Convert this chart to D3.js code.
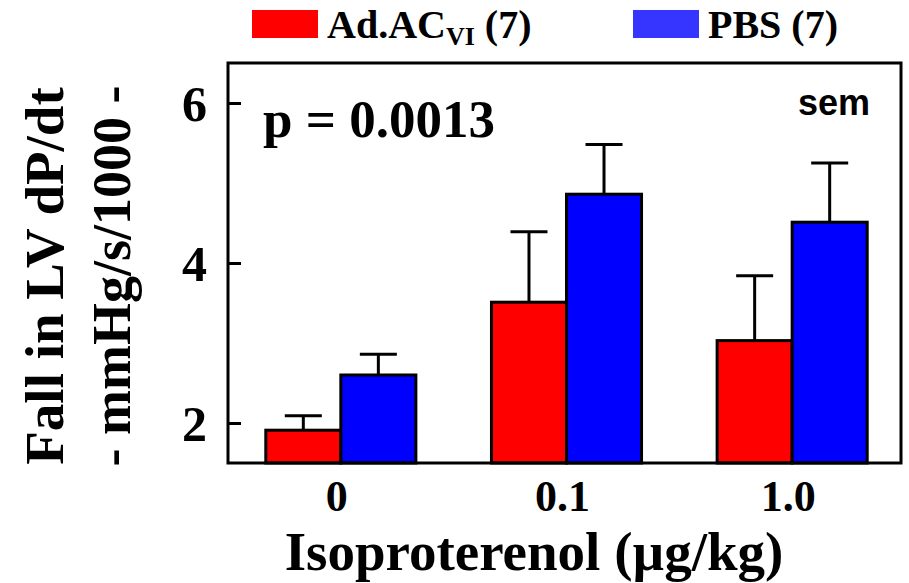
<!doctype html>
<html lang="en">
<head>
<meta charset="utf-8">
<title>Fall in LV dP/dt</title>
<script src="https://cdnjs.cloudflare.com/ajax/libs/d3/7.8.5/d3.min.js"></script>
<style>
  body { margin: 0; background: #fff; }
  svg { display: block; }
  .serif { font-family: "Liberation Serif", "Times New Roman", serif; font-weight: bold; fill: #000; }
  .sans { font-family: "Liberation Sans", Arial, sans-serif; font-weight: bold; fill: #000; }
</style>
</head>
<body>
<script>
// data
var doses = ["0", "0.1", "1.0"];
var groups = ["Ad.AC", "PBS"];
var adacMean = [1.91, 3.51, 3.03];
var adacSem = [0.18, 0.88, 0.81];
var pbsMean = [2.60, 4.86, 4.51];
var pbsSem = [0.26, 0.62, 0.74];
var yTicks = [2, 4, 6];

var width = 909, height = 583;
var plotLeft = 228, plotTop = 63, plotRight = 901, plotBottom = 463;

var svg = d3.select("body").append("svg")
    .attr("width", width)
    .attr("height", height);

var x0 = d3.scaleBand()
    .domain(doses)
    .range([plotLeft, 905])
    .paddingInner(0.335)
    .paddingOuter(0.1675);

var x1 = d3.scaleBand()
    .domain(groups)
    .range([0, x0.bandwidth()]);

var y = d3.scaleLinear()
    .domain([1.5, 6.5])
    .range([plotBottom, plotTop]);

var barColor = { "Ad.AC": "#ff0000", "PBS": "#0000ff" };
var keyColor = { "Ad.AC": "#ff0000", "PBS": "#3535ff" };

var rows = [];
doses.forEach(function (d, i) {
  rows.push({ dose: d, group: "Ad.AC", mean: adacMean[i], sem: adacSem[i] });
  rows.push({ dose: d, group: "PBS", mean: pbsMean[i], sem: pbsSem[i] });
});

// error bars (upper only), drawn before bars
var err = svg.append("g")
    .attr("stroke", "#000")
    .attr("stroke-width", 3);

rows.forEach(function (r) {
  var cx = x0(r.dose) + x1(r.group) + x1.bandwidth() / 2;
  err.append("line")
      .attr("x1", cx).attr("x2", cx)
      .attr("y1", y(r.mean)).attr("y2", y(r.mean + r.sem));
  err.append("line")
      .attr("x1", cx - 18.5).attr("x2", cx + 18.5)
      .attr("y1", y(r.mean + r.sem)).attr("y2", y(r.mean + r.sem));
});

// bars
svg.append("g").selectAll("rect")
    .data(rows)
    .join("rect")
    .attr("x", function (d) { return x0(d.dose) + x1(d.group); })
    .attr("y", function (d) { return y(d.mean); })
    .attr("width", x1.bandwidth())
    .attr("height", function (d) { return plotBottom - y(d.mean); })
    .attr("fill", function (d) { return barColor[d.group]; })
    .attr("stroke", "#000")
    .attr("stroke-width", 3);

// frame
svg.append("rect")
    .attr("x", plotLeft).attr("y", plotTop)
    .attr("width", plotRight - plotLeft).attr("height", plotBottom - plotTop)
    .attr("fill", "none")
    .attr("stroke", "#000")
    .attr("stroke-width", 3);

// y axis, ticks pointing inward
var yAxis = svg.append("g")
    .attr("transform", "translate(" + plotLeft + ",0)")
    .call(d3.axisLeft(y).tickValues(yTicks).tickFormat(d3.format("d"))
      .tickSize(-13).tickPadding(21));
yAxis.select(".domain").remove();
yAxis.selectAll(".tick line").attr("stroke", "#000").attr("stroke-width", 3);
yAxis.selectAll(".tick text")
    .attr("class", "serif")
    .attr("font-size", 50)
    .attr("dy", "0.34em");

// x axis labels
var xAxis = svg.append("g")
    .attr("transform", "translate(0," + plotBottom + ")")
    .call(d3.axisBottom(x0).tickSize(0));
xAxis.select(".domain").remove();
xAxis.selectAll(".tick text")
    .attr("class", "serif")
    .attr("font-size", 44)
    .attr("y", 48)
    .attr("dx", -4)
    .attr("dy", null);

// axis titles
svg.append("text")
    .attr("class", "serif")
    .attr("font-size", 55)
    .attr("text-anchor", "middle")
    .attr("x", 534).attr("y", 570)
    .text("Isoproterenol (\u00b5g/kg)");

var yTitle = svg.append("g")
    .attr("transform", "translate(0,276) rotate(-90)");
yTitle.append("text")
    .attr("class", "serif")
    .attr("font-size", 55)
    .attr("text-anchor", "middle")
    .attr("x", 0).attr("y", 63)
    .text("Fall in LV dP/dt");
yTitle.append("text")
    .attr("class", "serif")
    .attr("font-size", 54)
    .attr("text-anchor", "middle")
    .attr("x", 0).attr("y", 130)
    .text("- mmHg/s/1000 -");

// annotations
svg.append("text")
    .attr("class", "serif")
    .attr("font-size", 53)
    .attr("x", 263).attr("y", 137)
    .text("p = 0.0013");

svg.append("text")
    .attr("class", "sans")
    .attr("font-size", 36)
    .attr("text-anchor", "end")
    .attr("x", 870).attr("y", 115)
    .text("sem");

// legend
var legend = svg.append("g");
var keyX = [252, 633];
groups.forEach(function (g, i) {
  legend.append("rect")
      .attr("x", keyX[i]).attr("y", 10)
      .attr("width", 66).attr("height", 28)
      .attr("fill", keyColor[g]);
  var t = legend.append("text")
      .attr("class", "serif")
      .attr("font-size", 40)
      .attr("x", keyX[i] + 75).attr("y", 38);
  if (g === "Ad.AC") {
    t.append("tspan").text("Ad.AC");
    t.append("tspan").attr("font-size", 26).attr("dy", 7).text("VI");
    t.append("tspan").attr("dy", -7).text(" (7)");
  } else {
    t.text("PBS (7)");
  }
});
</script>
</body>
</html>
